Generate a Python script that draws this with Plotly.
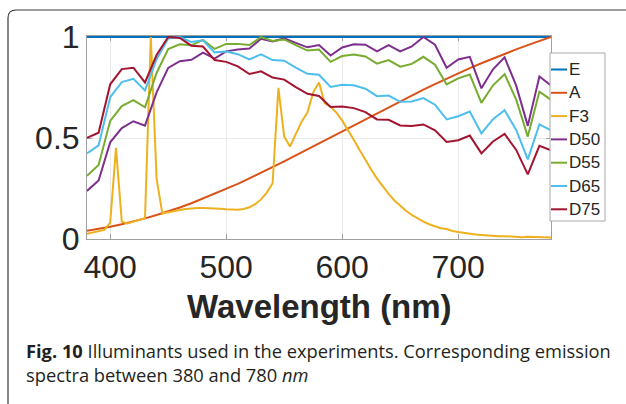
import plotly.graph_objects as go

# Wavelength grids (nm)
wl = list(range(380, 781, 10))      # 10 nm sampling
wl_f = list(range(380, 781, 5))     # 5 nm sampling for the fluorescent source

# Relative spectral power, each normalised to its own maximum
E = [1.0, 1.0, 1.0, 1.0, 1.0, 1.0, 1.0, 1.0, 1.0, 1.0, 1.0, 1.0, 1.0, 1.0,
     1.0, 1.0, 1.0, 1.0, 1.0, 1.0, 1.0, 1.0, 1.0, 1.0, 1.0, 1.0, 1.0, 1.0,
     1.0, 1.0, 1.0, 1.0, 1.0, 1.0, 1.0, 1.0, 1.0, 1.0, 1.0, 1.0, 1.0]
A = [0.041, 0.050, 0.061, 0.073, 0.087, 0.102, 0.119, 0.137, 0.156, 0.177,
     0.200, 0.223, 0.248, 0.273, 0.300, 0.327, 0.356, 0.384, 0.414, 0.444,
     0.474, 0.504, 0.534, 0.564, 0.594, 0.624, 0.654, 0.683, 0.712, 0.740,
     0.767, 0.794, 0.820, 0.846, 0.870, 0.894, 0.917, 0.939, 0.960, 0.981,
     1.000]
F3 = [0.026, 0.032, 0.040, 0.045, 0.081, 0.451, 0.085, 0.077, 0.086, 0.094,
      0.103, 1.000, 0.297, 0.126, 0.133, 0.139, 0.144, 0.148, 0.151, 0.153,
      0.153, 0.152, 0.153, 0.150, 0.147, 0.145, 0.145, 0.149, 0.157, 0.172,
      0.196, 0.230, 0.276, 0.748, 0.507, 0.458, 0.522, 0.581, 0.626, 0.726,
      0.775, 0.672, 0.655, 0.626, 0.586, 0.541, 0.491, 0.441, 0.391, 0.344,
      0.299, 0.260, 0.223, 0.191, 0.164, 0.140, 0.119, 0.101, 0.086, 0.073,
      0.063, 0.053, 0.049, 0.040, 0.035, 0.030, 0.026, 0.022, 0.020, 0.017,
      0.015, 0.014, 0.014, 0.012, 0.011, 0.009, 0.011, 0.010, 0.009, 0.007,
      0.007]
D50 = [0.238, 0.290, 0.479, 0.549, 0.583, 0.561, 0.726, 0.847, 0.880, 0.887,
       0.923, 0.893, 0.929, 0.938, 0.943, 0.991, 0.978, 0.993, 0.971, 0.949,
       0.960, 0.908, 0.948, 0.964, 0.962, 0.929, 0.960, 0.929, 0.953, 1.000,
       0.962, 0.848, 0.889, 0.902, 0.746, 0.840, 0.899, 0.759, 0.560, 0.805,
       0.760]
D55 = [0.313, 0.366, 0.585, 0.658, 0.687, 0.652, 0.822, 0.940, 0.964, 0.959,
       0.986, 0.941, 0.966, 0.966, 0.960, 1.000, 0.980, 0.988, 0.960, 0.933,
       0.938, 0.877, 0.906, 0.913, 0.904, 0.868, 0.886, 0.853, 0.867, 0.902,
       0.863, 0.765, 0.795, 0.814, 0.674, 0.761, 0.816, 0.690, 0.507, 0.729,
       0.689]
D65 = [0.424, 0.464, 0.702, 0.777, 0.793, 0.736, 0.890, 0.993, 1.000, 0.975,
       0.984, 0.924, 0.928, 0.915, 0.889, 0.914, 0.886, 0.883, 0.849, 0.818,
       0.813, 0.753, 0.764, 0.761, 0.744, 0.707, 0.710, 0.679, 0.681, 0.698,
       0.665, 0.592, 0.608, 0.631, 0.523, 0.593, 0.637, 0.540, 0.394, 0.567,
       0.538]
D75 = [0.501, 0.526, 0.766, 0.841, 0.848, 0.775, 0.911, 1.000, 0.995, 0.957,
       0.953, 0.886, 0.877, 0.855, 0.817, 0.830, 0.799, 0.789, 0.752, 0.719,
       0.708, 0.654, 0.656, 0.648, 0.628, 0.592, 0.590, 0.562, 0.559, 0.567,
       0.538, 0.480, 0.489, 0.512, 0.424, 0.483, 0.520, 0.441, 0.320, 0.461,
       0.439]

series = [
    ("E", wl, E, "#0072BD"),
    ("A", wl, A, "#D95319"),
    ("F3", wl_f, F3, "#EDB120"),
    ("D50", wl, D50, "#7E2F8E"),
    ("D55", wl, D55, "#77AC30"),
    ("D65", wl, D65, "#4DBEEE"),
    ("D75", wl, D75, "#A2142F"),
]

x_ticks = [400, 500, 600, 700]
y_ticks = [0, 0.5, 1]
y_ticktext = ["0", "0.5", "1"]

# Page geometry (pixels)
W, H = 626, 404
ML, MR, MT, MB = 87, 75, 36, 165
PW, PH = W - ML - MR, H - MT - MB


def px(x):
    return (x - ML) / PW


def py(y):
    return (H - MB - y) / PH


AXIS_GREY = "#a0a0a0"
TEXT = "#262626"
SANS = "Liberation Sans, Arial, sans-serif"

fig = go.Figure()
for name, xs, ys, color in series:
    fig.add_trace(go.Scatter(x=xs, y=ys, mode="lines", name=name,
                             line=dict(color=color, width=2),
                             showlegend=False))

axis_common = dict(
    ticks="inside", ticklen=5, tickcolor=AXIS_GREY, tickwidth=1,
    showline=True, linecolor=AXIS_GREY, linewidth=1, mirror="ticks",
    showgrid=True, gridcolor="#ebebeb", gridwidth=1, zeroline=False,
    layer="below traces",
    tickfont=dict(family=SANS, size=32, color=TEXT),
)

fig.update_xaxes(range=[380, 780], tickvals=x_ticks, **axis_common)
# small headroom so the flat E spectrum at 1 is not half clipped
fig.update_yaxes(range=[0, 1.005], tickvals=y_ticks, ticktext=y_ticktext,
                 **axis_common)

shapes = []
annotations = []

# Rounded page frame around the figure panel
shapes.append(dict(
    type="path", xref="paper", yref="paper", layer="above",
    path=(f"M {px(8)},{py(420)} L {px(8)},{py(18)} "
          f"Q {px(8)},{py(10)} {px(16)},{py(10)} L {px(640)},{py(10)}"),
    line=dict(color="#3a3a3a", width=1.2),
))

# Legend box with line swatches
LEG_X0, LEG_X1, LEG_Y0, LEG_Y1 = 550, 605, 53, 221
shapes.append(dict(type="rect", xref="paper", yref="paper", layer="above",
                   x0=px(LEG_X0), x1=px(LEG_X1), y0=py(LEG_Y0), y1=py(LEG_Y1),
                   line=dict(color="#a8a8a8", width=1), fillcolor="white"))
for i, (name, _, _, color) in enumerate(series):
    yc = 69.5 + 23.3 * i
    shapes.append(dict(type="line", xref="paper", yref="paper", layer="above",
                       x0=px(551), x1=px(567), y0=py(yc), y1=py(yc),
                       line=dict(color=color, width=2)))
    annotations.append(dict(text=name, xref="paper", yref="paper",
                            x=px(567), y=py(yc), xanchor="left",
                            yanchor="middle", showarrow=False,
                            font=dict(family=SANS, size=17, color=TEXT)))

# Axis label
annotations.append(dict(text="<b>Wavelength (nm)</b>", xref="paper",
                        yref="paper", x=px(319), y=py(306), xanchor="center",
                        yanchor="middle", showarrow=False,
                        font=dict(family=SANS, size=33, color=TEXT)))

# Figure caption
annotations.append(dict(
    text=("<b>Fig. 10</b> Illuminants used in the experiments. "
          "Corresponding emission<br>spectra between 380 and 780 <i>nm</i>"),
    xref="paper", yref="paper", x=px(24), y=py(336), xanchor="left",
    yanchor="top", align="left", showarrow=False,
    font=dict(family="Open Sans, sans-serif", size=18.3, color="#231f20"),
))

fig.update_layout(
    width=W, height=H,
    margin=dict(l=ML, r=MR, t=MT, b=MB),
    paper_bgcolor="white", plot_bgcolor="white",
    shapes=shapes, annotations=annotations,
    showlegend=False,
)

fig.write_html("out.html")
